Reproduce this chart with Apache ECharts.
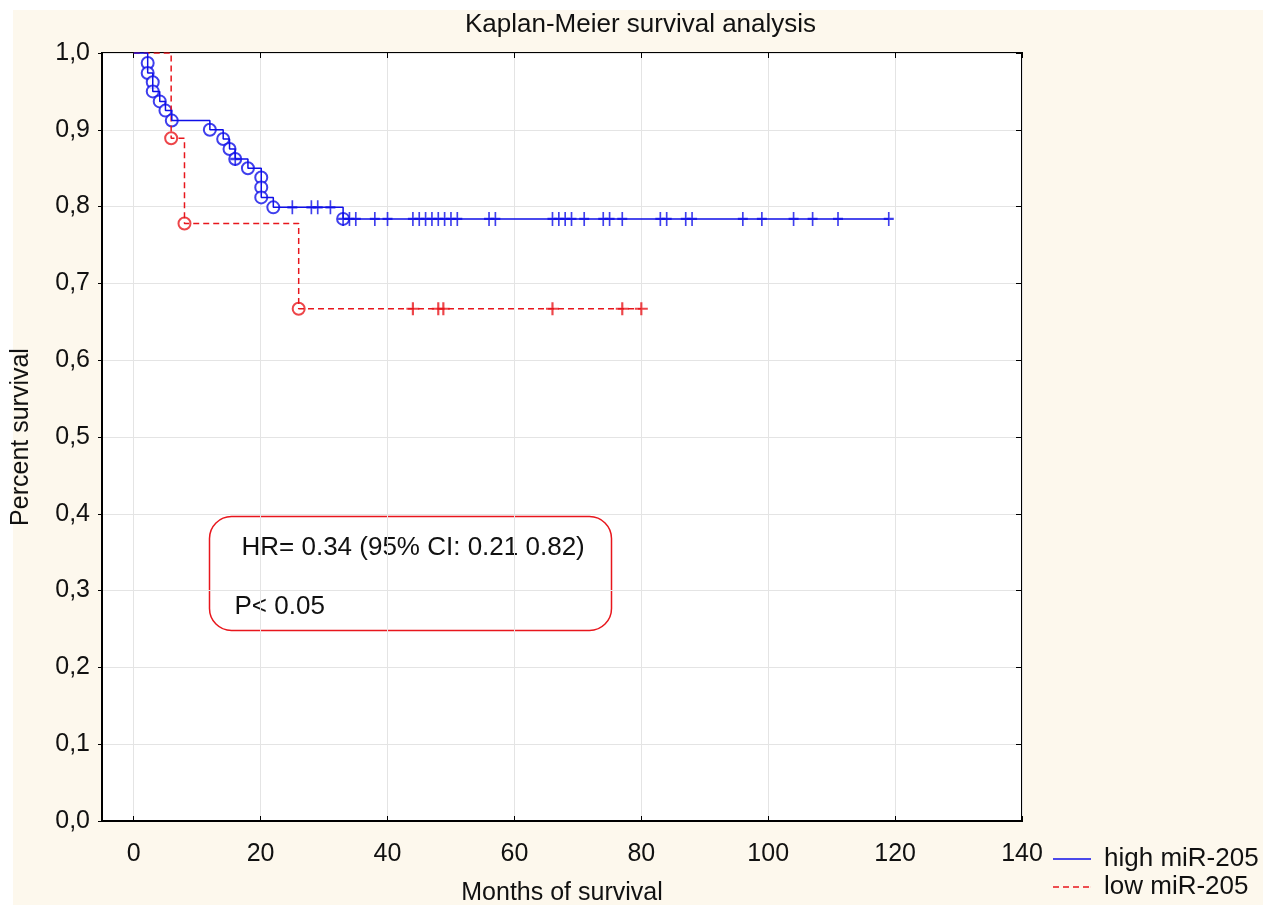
<!DOCTYPE html>
<html>
<head>
<meta charset="utf-8">
<script src="https://cdn.jsdelivr.net/npm/echarts@6/dist/echarts.min.js"></script>
<style>
    * { margin: 0; padding: 0; }
    body { background: #ffffff; width: 1281px; height: 905px; overflow: hidden; }
    #paper { position: absolute; left: 13px; top: 10px; width: 1250px; height: 895px; background: #fdf8ed; }
    #km { position: absolute; left: 0; top: 0; width: 1281px; height: 905px; }
</style>
</head>
<body>
<div id="paper"></div>
<div id="km"></div>
<script>
    // values: [months, survival]
    var highEvents = [
        [2.2, 0.987], [2.2, 0.974], [3, 0.962], [3, 0.950], [4.1, 0.937], [5, 0.925],
        [6, 0.912], [12, 0.900], [14.1, 0.888], [15.1, 0.875], [16, 0.862], [18, 0.850],
        [20.1, 0.838], [20.1, 0.825], [20.1, 0.812], [22, 0.799], [33, 0.784]
    ];
    var highCensored = [
        [16, 0.862], [25, 0.799], [28, 0.799], [29, 0.799], [31, 0.799],
        [33, 0.784], [34, 0.784], [35, 0.784], [38, 0.784], [40, 0.784], [44, 0.784],
        [45, 0.784], [46, 0.784], [47, 0.784], [48, 0.784], [49, 0.784], [50, 0.784],
        [51, 0.784], [56, 0.784], [57, 0.784], [66, 0.784], [67, 0.784], [68, 0.784],
        [69, 0.784], [71, 0.784], [74, 0.784], [75, 0.784], [77, 0.784], [83, 0.784],
        [84, 0.784], [87, 0.784], [88, 0.784], [96, 0.784], [99, 0.784], [104, 0.784],
        [107, 0.784], [111, 0.784], [119, 0.784]
    ];
    var lowEvents = [[5.9, 0.889], [8, 0.778], [26, 0.667]];
    var lowCensored = [[44, 0.667], [48, 0.667], [48.8, 0.667], [66, 0.667], [77, 0.667], [80, 0.667]];
    var xTicks = [0, 20, 40, 60, 80, 100, 120, 140];
    var legendNames = ['high miR-205', 'low miR-205'];

    var blue = '#0f0fe8';
    var red = '#e8161c';
    var font = 'Liberation Sans, Arial, sans-serif';
    var plus = 'path://M5,0H7V5H12V7H7V12H5V7H0V5H5Z';
    var solidIcon = 'path://M0,0H38V1.5H0Z';
    var dashIcon = 'path://M0,0H6V1.5H0Z M10,0H16V1.5H10Z M20,0H26V1.5H20Z M30,0H36V1.5H30Z M37.9,0H38V1.5H37.9Z';

    // step line through all points, starting from 1.0
    function curve(events, censored) {
        var pts = [[0, 1]].concat(events, censored);
        pts.sort(function (a, b) { return a[0] - b[0] || b[1] - a[1]; });
        return pts;
    }

    var chart = echarts.init(document.getElementById('km'));
    chart.setOption({
        backgroundColor: 'transparent',
        animation: false,
        textStyle: { fontFamily: font },
        title: {
            text: 'Kaplan-Meier survival analysis',
            left: 'center',
            top: 7,
            textStyle: { fontFamily: font, fontSize: 26, fontWeight: 'normal', color: '#111' }
        },
        legend: {
            data: [
                { name: legendNames[0], icon: solidIcon },
                { name: legendNames[1], icon: dashIcon }
            ],
            orient: 'vertical',
            left: 1053,
            top: 846,
            padding: 0,
            itemWidth: 38,
            itemHeight: 2,
            itemGap: 2,
            textStyle: { fontFamily: font, fontSize: 26, color: '#111', padding: [0, 0, 0, 8] }
        },
        grid: {
            left: 102, top: 53, right: 259, bottom: 84,
            outerBoundsMode: 'none',
            show: true, backgroundColor: '#ffffff', borderColor: '#000', borderWidth: 2
        },
        xAxis: [{
            type: 'value', min: -5, max: 140,
            name: 'Months of survival', nameLocation: 'middle', nameGap: 60,
            nameTextStyle: { fontFamily: font, fontSize: 25, color: '#111' },
            axisLine: { onZero: false, lineStyle: { color: '#000', width: 2 } },
            axisTick: { inside: true, length: 5, customValues: xTicks, lineStyle: { color: '#000' } },
            axisLabel: { customValues: xTicks, margin: 21, fontSize: 25, color: '#111' },
            splitLine: { show: true, lineStyle: { color: '#e4e4e4' } }
        }, {
            type: 'value', min: -5, max: 140, position: 'top',
            axisLine: { show: false, onZero: false },
            axisTick: { inside: true, length: 5, customValues: xTicks, lineStyle: { color: '#000' } },
            axisLabel: { show: false },
            splitLine: { show: false }
        }],
        yAxis: [{
            type: 'value', min: 0, max: 1, interval: 0.1,
            name: 'Percent survival', nameLocation: 'middle', nameGap: 68,
            nameTextStyle: { fontFamily: font, fontSize: 25, color: '#111' },
            axisLine: { show: true, onZero: false, lineStyle: { color: '#000', width: 2 } },
            axisTick: { show: true, length: 4, lineStyle: { color: '#000' } },
            axisLabel: {
                margin: 12, fontSize: 25, color: '#111',
                formatter: function (v) { return v.toFixed(1).replace('.', ','); }
            },
            splitLine: { show: true, lineStyle: { color: '#e4e4e4' } }
        }, {
            type: 'value', min: 0, max: 1, interval: 0.1, position: 'right',
            axisLine: { show: false, onZero: false },
            axisTick: { show: true, inside: true, length: 6, lineStyle: { color: '#000' } },
            axisLabel: { show: false },
            splitLine: { show: false }
        }],
        series: [
            {
                name: 'low miR-205', type: 'line', step: 'end', symbol: 'none',
                data: curve(lowEvents, lowCensored),
                lineStyle: { color: red, width: 1.5, type: [6, 4] },
                itemStyle: { color: red }
            },
            {
                name: 'low events', type: 'scatter', data: lowEvents,
                symbol: 'emptyCircle', symbolSize: 12,
                itemStyle: { color: red, borderColor: red, borderWidth: 2 }
            },
            {
                name: 'low censored', type: 'scatter', data: lowCensored,
                symbol: plus, symbolSize: [13, 13],
                itemStyle: { color: red }
            },
            {
                name: 'high miR-205', type: 'line', step: 'end', symbol: 'none',
                data: curve(highEvents, highCensored),
                lineStyle: { color: blue, width: 1.5 },
                itemStyle: { color: blue }
            },
            {
                name: 'high events', type: 'scatter', data: highEvents,
                symbol: 'emptyCircle', symbolSize: 12,
                itemStyle: { color: blue, borderColor: blue, borderWidth: 2 }
            },
            {
                name: 'high censored', type: 'scatter', data: highCensored,
                symbol: plus, symbolSize: [10, 14],
                itemStyle: { color: blue }
            }
        ],
        graphic: [{
            type: 'group', left: 207, top: 514, z: 100,
            children: [{
                type: 'rect',
                shape: { x: 0, y: 0, width: 402, height: 114, r: 22 },
                style: { fill: 'none', stroke: red, lineWidth: 1.5 }
            }, {
                type: 'text', x: 32, y: 31,
                style: { text: 'HR= 0.34 (95% CI: 0.21 0.82)', font: '26px ' + font, fill: '#111', verticalAlign: 'middle' }
            }, {
                type: 'text', x: 25, y: 90,
                style: { text: 'P< 0.05', font: '26px ' + font, fill: '#111', verticalAlign: 'middle' }
            }]
        }]
    });
</script>
</body>
</html>
